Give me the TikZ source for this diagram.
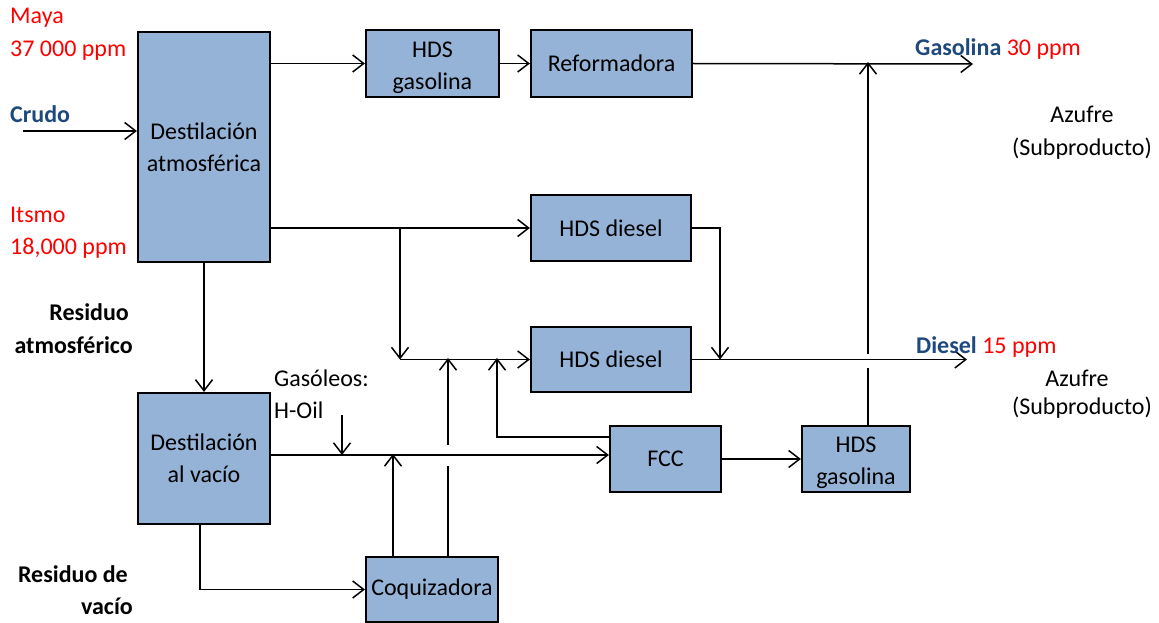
\documentclass[tikz,border=0pt]{standalone}
\usepackage{fontspec}
\setmainfont{Carlito}
\usetikzlibrary{arrows.meta}
\definecolor{boxfill}{RGB}{149,179,215}
\definecolor{flowblue}{RGB}{31,73,125}
\definecolor{ppmred}{RGB}{255,0,0}
% taller first line so a two-line label sits a little lower in its box
\newcommand{\toplift}{\rule{0pt}{24pt}}

\begin{document}
\begin{tikzpicture}[x=1pt,y=-1pt,
  font=\fontsize{24}{32}\selectfont,
  unit/.style={draw=black, fill=boxfill, line width=2.2pt, inner sep=0pt, align=center},
  flow/.style={line width=1.5pt, -{Straight Barb[length=11pt,width=17pt]}},
  txt/.style={inner sep=0pt},
  boldtxt/.style={txt, font=\fontsize{24}{32}\selectfont\bfseries},
]
\useasboundingbox (0,0) rectangle (1159,623);

% process units
\node[unit, minimum width=132, minimum height=230] (da) at (204,147) {Destilación\\atmosférica};
\node[unit, minimum width=133, minimum height=67] (hg1) at (432.5,63.5) {\toplift HDS\\gasolina};
\node[unit, minimum width=161, minimum height=67] (ref) at (611.5,63.5) {Reformadora};
\node[unit, minimum width=160, minimum height=66] (hd1) at (611,228) {HDS diesel};
\node[unit, minimum width=160, minimum height=65] (hd2) at (611,359.5) {HDS diesel};
\node[unit, minimum width=111, minimum height=66] (fcc) at (665.5,459) {FCC};
\node[unit, minimum width=108, minimum height=66] (hg2) at (856,459) {\toplift HDS\\gasolina};
\node[unit, minimum width=132, minimum height=131] (dv) at (204,458.5) {Destilación\\al vacío};
\node[unit, minimum width=132, minimum height=65] (coq) at (432,589.5) {Coquizadora};

% free ends and routing points
\coordinate (crudoin) at (23,131);
\coordinate (gasout) at (973,64);
\coordinate (dieselout) at (967,359.5);
\coordinate (sg) at (868,0);
\coordinate (br1) at (400,228);
\coordinate (dj) at (720,0);
\coordinate (fb) at (497,437);
\coordinate (vl) at (0,455);
\coordinate (hoil) at (342,415);
\coordinate (cq1) at (393,0);
\coordinate (cq2) at (448,0);
\coordinate (dvx) at (200,0);

% connectors
\draw[flow] (crudoin) -- (crudoin -| da.west);
\draw[flow] (da.east |- hg1) -- (hg1.west);
\draw[flow] (hg1.east) -- (ref.west);
\draw[flow] (ref.east) -- (gasout);
\draw[flow] (hg2.north -| sg) -- ++(0,-57) ++(0,-14) -- ([yshift=2pt]sg |- gasout);
\draw[flow] (da.east |- hd1) -- (hd1.west);
\draw[flow] (br1) -- (br1 |- hd2);
\draw[flow] (br1 |- hd2) -- (hd2.west);
\draw[flow] (hd1.east) -| (dj |- hd2.east);
\draw[flow] (hd2.east) -- (dieselout);
\draw[flow] (fb -| fcc.west) -- (fb) -- ([yshift=1.5pt]fb |- hd2);
\draw[flow] (dv.east |- vl) -- (fcc.west |- vl);
\draw[flow] (hoil) -- (hoil |- vl);
\draw[flow] (coq.north -| cq1) -- ([yshift=1pt]cq1 |- vl);
\draw[flow] (coq.north -| cq2) -- ++(0,-90) ++(0,-21) -- ([yshift=1.5pt]cq2 |- hd2);
\draw[flow] (da.south) -- (dv.north);
\draw[flow] (dvx |- dv.south) |- (coq.west);
\draw[flow] (fcc.east) -- (hg2.west);

% crude labels
\node[txt, anchor=base west, text=ppmred] (maya) at (10,24) {Maya};
\node[txt, anchor=base west, text=ppmred] (mayas) at (10,57) {37 000 ppm};
\node[boldtxt, anchor=base west, text=flowblue] (crudo) at (10,123) {Crudo};
\node[txt, anchor=base west, text=ppmred] (itsmo) at (10,222) {Itsmo};
\node[txt, anchor=base west, text=ppmred] (itsmos) at (10,254) {18,000 ppm};

% residue labels
\node[boldtxt, anchor=base east] (ra1) at (129,320) {Residuo};
\node[boldtxt, anchor=base east] (ra2) at (133,353) {atmosférico};
\node[boldtxt, anchor=base east] (rv1) at (128,582) {Residuo de};
\node[boldtxt, anchor=base east] (rv2) at (133,614) {vacío};

% gas oil feed
\node[txt, anchor=base west] (gso1) at (274,386) {Gasóleos:};
\node[txt, anchor=base west] (gso2) at (274,418) {H-Oil};

% products
\node[txt, anchor=base west] (gasprod) at (915,56) {\textcolor{flowblue}{\bfseries Gasolina} \textcolor{ppmred}{30 ppm}};
\node[txt, anchor=base] (az1) at (1082,123) {Azufre};
\node[txt, anchor=base] (sub1) at (1082,155) {(Subproducto)};
\node[txt, anchor=base west] (dieprod) at (916,353) {\textcolor{flowblue}{\bfseries Diesel} \textcolor{ppmred}{15 ppm}};
\node[txt, anchor=base] (az2) at (1077,386) {Azufre};
\node[txt, anchor=base] (sub2) at (1082,414) {(Subproducto)};
\end{tikzpicture}
\end{document}
